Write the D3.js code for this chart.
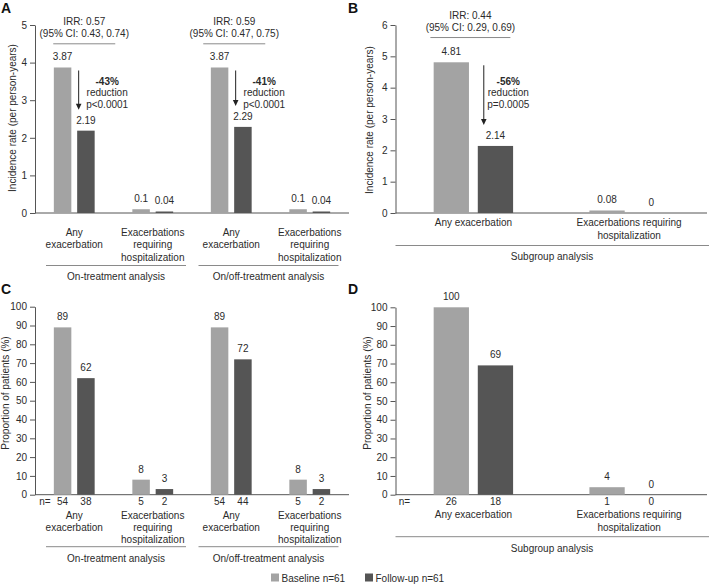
<!DOCTYPE html>
<html>
<head>
<meta charset="utf-8">
<script src="https://cdn.jsdelivr.net/npm/d3@7/dist/d3.min.js"></script>
<style>
  html, body { margin: 0; padding: 0; background: #fff; }
  svg text { font-family: "Liberation Sans", Arial, Helvetica, sans-serif; }
</style>
</head>
<body>
<svg id="chart" width="709" height="585"></svg>
<script>
// ---------------- DATA ----------------
const seriesNames = ["Baseline n=61", "Follow-up n=61"];

// Panel A: incidence rate, on-treatment and on/off-treatment analyses
const aCategories = ["Any exacerbation (on)", "Hospitalization (on)", "Any exacerbation (on/off)", "Hospitalization (on/off)"];
const aBaseline = [3.87, 0.1, 3.87, 0.1];
const aFollowup = [2.19, 0.04, 2.29, 0.04];
const aTicks = [0, 1, 2, 3, 4, 5];
const aCategoryLabels = [["Any", "exacerbation"], ["Exacerbations", "requiring", "hospitalization"],
                         ["Any", "exacerbation"], ["Exacerbations", "requiring", "hospitalization"]];
const aGroups = ["On-treatment analysis", "On/off-treatment analysis"];
const aIRR = ["IRR: 0.57", "IRR: 0.59"];
const aCI = ["(95% CI: 0.43, 0.74)", "(95% CI: 0.47, 0.75)"];
const aReduction = ["-43%", "-41%"];
const aPValue = ["p<0.0001", "p<0.0001"];

// Panel B: incidence rate, subgroup analysis
const bCategories = ["Any exacerbation", "Exacerbations requiring hospitalization"];
const bBaseline = [4.81, 0.08];
const bFollowup = [2.14, 0];
const bTicks = [0, 1, 2, 3, 4, 5, 6];
const bCategoryLabels = [["Any exacerbation"], ["Exacerbations requiring", "hospitalization"]];
const bGroups = ["Subgroup analysis"];
const bIRR = ["IRR: 0.44"];
const bCI = ["(95% CI: 0.29, 0.69)"];
const bReduction = ["-56%"];
const bPValue = ["p=0.0005"];

// Panel C: proportion of patients, on-treatment and on/off-treatment analyses
const cBaseline = [89, 8, 89, 8];
const cFollowup = [62, 3, 72, 3];
const cBaselineN = [54, 5, 54, 5];
const cFollowupN = [38, 2, 44, 2];
const cTicks = [0, 10, 20, 30, 40, 50, 60, 70, 80, 90, 100];

// Panel D: proportion of patients, subgroup analysis
const dBaseline = [100, 4];
const dFollowup = [69, 0];
const dBaselineN = [26, 1];
const dFollowupN = [18, 0];
const dTicks = [0, 10, 20, 30, 40, 50, 60, 70, 80, 90, 100];

// ---------------- STYLE ----------------
const colBase = "#a3a3a3";
const colFollow = "#555555";
const axisCol = "#555555";
const groupLineCol = "#8a8a8a";
const textCol = "#2b2b2b";
const FS = 10;

const svg = d3.select("#chart");

function drawPanel(cfg) {
  const g = svg.append("g");
  const y = d3.scaleLinear().domain([0, cfg.yMax]).range([cfg.y0, cfg.yTop]);
  const x = d3.scaleBand().domain(cfg.categories).range([cfg.x0, cfg.x1])
    .paddingInner(cfg.pad).paddingOuter(cfg.pad / 2);
  const sub = d3.scaleBand().domain(seriesNames).range([0, x.bandwidth()]).paddingInner(cfg.subPad);

  // y axis
  const ax = g.append("g").attr("transform", `translate(${cfg.x0},0)`)
    .call(d3.axisLeft(y).tickValues(cfg.ticks).tickFormat(d3.format("d")).tickSize(5).tickSizeOuter(0).tickPadding(3));
  ax.select(".domain").attr("stroke", axisCol).attr("stroke-width", 1);
  ax.selectAll(".tick line").attr("stroke", axisCol);
  ax.selectAll(".tick text").attr("fill", textCol).style("font-size", FS + "px")
    .style("font-family", '"Liberation Sans", Arial, sans-serif');

  // x axis baseline
  g.append("line").attr("x1", cfg.x0).attr("x2", cfg.xAxisEnd).attr("y1", cfg.y0).attr("y2", cfg.y0)
    .attr("stroke", axisCol).attr("stroke-width", 1);

  // y label
  g.append("text").attr("transform", `translate(${cfg.yLabelX},${cfg.yLabelY}) rotate(-90)`)
    .attr("text-anchor", "middle").attr("dominant-baseline", "central")
    .attr("fill", textCol).style("font-size", FS + "px").text(cfg.yLabel);

  // bars
  const rows = cfg.categories.map((c, i) => ({ c, i, vals: [cfg.baseline[i], cfg.followup[i]] }));
  rows.forEach(r => {
    r.vals.forEach((v, k) => {
      const bx = x(r.c) + sub(seriesNames[k]);
      g.append("rect").attr("x", bx).attr("width", sub.bandwidth())
        .attr("y", y(v)).attr("height", cfg.y0 - y(v))
        .attr("fill", k === 0 ? colBase : colFollow);
      g.append("text").attr("x", bx + sub.bandwidth() / 2).attr("y", y(v) - 7)
        .attr("text-anchor", "middle").attr("fill", textCol).style("font-size", FS + "px")
        .text(String(v));
      if (cfg.nBase) {
        const nv = k === 0 ? cfg.nBase[r.i] : cfg.nFollow[r.i];
        g.append("text").attr("x", bx + sub.bandwidth() / 2).attr("y", cfg.nY)
          .attr("text-anchor", "middle").attr("fill", textCol).style("font-size", FS + "px")
          .text(String(nv));
      }
    });
    // category labels
    cfg.catLabels[r.i].forEach((line, li) => {
      g.append("text").attr("x", x(r.c) + x.bandwidth() / 2).attr("y", cfg.catY + li * cfg.lineH)
        .attr("text-anchor", "middle").attr("fill", textCol).style("font-size", FS + "px").text(line);
    });
  });

  if (cfg.nBase) {
    g.append("text").attr("x", cfg.nLabelX).attr("y", cfg.nY).attr("text-anchor", "middle")
      .attr("fill", textCol).style("font-size", FS + "px").text("n=");
  }

  // groups
  cfg.groups.forEach((gl, gi) => {
    let gx1, gx2, gmid;
    if (cfg.groupFull) {
      gx1 = cfg.x0; gx2 = 709; gmid = cfg.groupLabelX;
    } else {
      const a = cfg.categories[gi * 2], b = cfg.categories[gi * 2 + 1];
      gmid = (x(a) + x(b) + x.bandwidth()) / 2 + cfg.groupShift[gi];
      gx1 = gmid - 70; gx2 = gmid + 70;
    }
    g.append("line").attr("x1", gx1).attr("x2", gx2).attr("y1", cfg.groupLineY).attr("y2", cfg.groupLineY)
      .attr("stroke", groupLineCol).attr("stroke-width", 1);
    g.append("text").attr("x", gmid).attr("y", cfg.groupLabelY).attr("text-anchor", "middle")
      .attr("fill", textCol).style("font-size", FS + "px").text(gl);
  });

  // IRR annotations
  if (cfg.irr) {
    cfg.irr.forEach((t, ai) => {
      const cat = cfg.categories[ai * 2];
      const cx = x(cat) + x.bandwidth() / 2 + cfg.irrShift[ai];
      const ly = y(cfg.irrLineValue);
      g.append("line").attr("x1", cx - cfg.irrHalf).attr("x2", cx + cfg.irrHalf).attr("y1", ly).attr("y2", ly)
        .attr("stroke", groupLineCol).attr("stroke-width", 1);
      g.append("text").attr("x", cx).attr("y", ly - 18.5).attr("text-anchor", "middle")
        .attr("fill", textCol).style("font-size", FS + "px").text(t);
      g.append("text").attr("x", cx).attr("y", ly - 7).attr("text-anchor", "middle")
        .attr("fill", textCol).style("font-size", FS + "px").text(cfg.ci[ai]);

      // arrow
      const fx = x(cat) + sub(seriesNames[1]) + cfg.arrowShift;
      const yTopA = y(cfg.baseline[ai * 2]) + 3;
      const yTip = y(cfg.followup[ai * 2]) - 21;
      g.append("line").attr("x1", fx).attr("x2", fx).attr("y1", yTopA).attr("y2", yTip - 5)
        .attr("stroke", "#222").attr("stroke-width", 1);
      g.append("path").attr("d", `M${fx - 2.8},${yTip - 6} L${fx + 2.8},${yTip - 6} L${fx},${yTip} Z`)
        .attr("fill", "#222");
      const tx = fx + cfg.redShift;
      const t0 = cfg.yTop + 60;
      g.append("text").attr("x", tx).attr("y", t0).attr("text-anchor", "middle")
        .attr("fill", textCol).style("font-size", FS + "px").style("font-weight", "bold").text(cfg.red[ai]);
      g.append("text").attr("x", tx).attr("y", t0 + 11.3).attr("text-anchor", "middle")
        .attr("fill", textCol).style("font-size", FS + "px").text("reduction");
      g.append("text").attr("x", tx).attr("y", t0 + 22.6).attr("text-anchor", "middle")
        .attr("fill", textCol).style("font-size", FS + "px").text(cfg.pv[ai]);
    });
  }

  // panel letter
  svg.append("text").attr("x", cfg.letterX).attr("y", cfg.letterY).attr("fill", "#111")
    .style("font-size", "14px").style("font-weight", "bold").text(cfg.letter);
}

// Panel A
drawPanel({
  letter: "A", letterX: 1, letterY: 13,
  categories: aCategories, baseline: aBaseline, followup: aFollowup,
  x0: 35, x1: 349, xAxisEnd: 349, y0: 213, yTop: 25, yMax: 5, ticks: aTicks,
  pad: 0.48, subPad: 0.25,
  yLabel: "Incidence rate (per person-years)", yLabelX: 12, yLabelY: 118,
  catLabels: aCategoryLabels, catY: 236, lineH: 12.4,
  groups: aGroups, groupLineY: 265.5, groupLabelY: 279.5, groupShift: [2.5, -2],
  irr: aIRR, ci: aCI, red: aReduction, pv: aPValue,
  irrLineValue: 4.5, irrHalf: 31, irrShift: [10, 3], arrowShift: 1.5, redShift: 28.5
});

// Panel B
drawPanel({
  letter: "B", letterX: 348, letterY: 13,
  categories: bCategories, baseline: bBaseline, followup: bFollowup,
  x0: 395.5, x1: 707, xAxisEnd: 707, y0: 213, yTop: 25, yMax: 6, ticks: bTicks,
  pad: 0.49, subPad: 0.2,
  yLabel: "Incidence rate (per person-years)", yLabelX: 369, yLabelY: 120,
  catLabels: bCategoryLabels, catY: 226, lineH: 12.6,
  groups: bGroups, groupFull: true, groupLabelX: 552, groupLineY: 245.5, groupLabelY: 259.5,
  irr: bIRR, ci: bCI, red: bReduction, pv: bPValue,
  irrLineValue: 5.6, irrHalf: 40, irrShift: [-3], arrowShift: 6, redShift: 24.5
});

// Panel C
drawPanel({
  letter: "C", letterX: 1, letterY: 294,
  categories: aCategories, baseline: cBaseline, followup: cFollowup,
  nBase: cBaselineN, nFollow: cFollowupN, nY: 504.5, nLabelX: 45,
  x0: 35, x1: 349, xAxisEnd: 349, y0: 494.7, yTop: 306.7, yMax: 100, ticks: cTicks,
  pad: 0.48, subPad: 0.25,
  yLabel: "Proportion of patients (%)", yLabelX: 5.5, yLabelY: 393,
  catLabels: aCategoryLabels, catY: 518.6, lineH: 12,
  groups: aGroups, groupLineY: 546.7, groupLabelY: 562, groupShift: [2.5, -2]
});

// Panel D
drawPanel({
  letter: "D", letterX: 348, letterY: 294,
  categories: bCategories, baseline: dBaseline, followup: dFollowup,
  nBase: dBaselineN, nFollow: dFollowupN, nY: 504.5, nLabelX: 404.5,
  x0: 395.5, x1: 707, xAxisEnd: 707, y0: 494.7, yTop: 307.3, yMax: 100, ticks: dTicks,
  pad: 0.49, subPad: 0.2,
  yLabel: "Proportion of patients (%)", yLabelX: 367, yLabelY: 393,
  catLabels: bCategoryLabels, catY: 517.6, lineH: 13.2,
  groups: bGroups, groupFull: true, groupLabelX: 552, groupLineY: 536.7, groupLabelY: 551.6
});

// Legend
const legX = [271, 365];
seriesNames.forEach((s, i) => {
  svg.append("rect").attr("x", legX[i]).attr("y", 573.5).attr("width", 8).attr("height", 8)
    .attr("fill", i === 0 ? colBase : colFollow);
  svg.append("text").attr("x", legX[i] + 10.5).attr("y", 581.5).attr("fill", textCol)
    .style("font-size", FS + "px").text(s);
});
</script>
</body>
</html>
